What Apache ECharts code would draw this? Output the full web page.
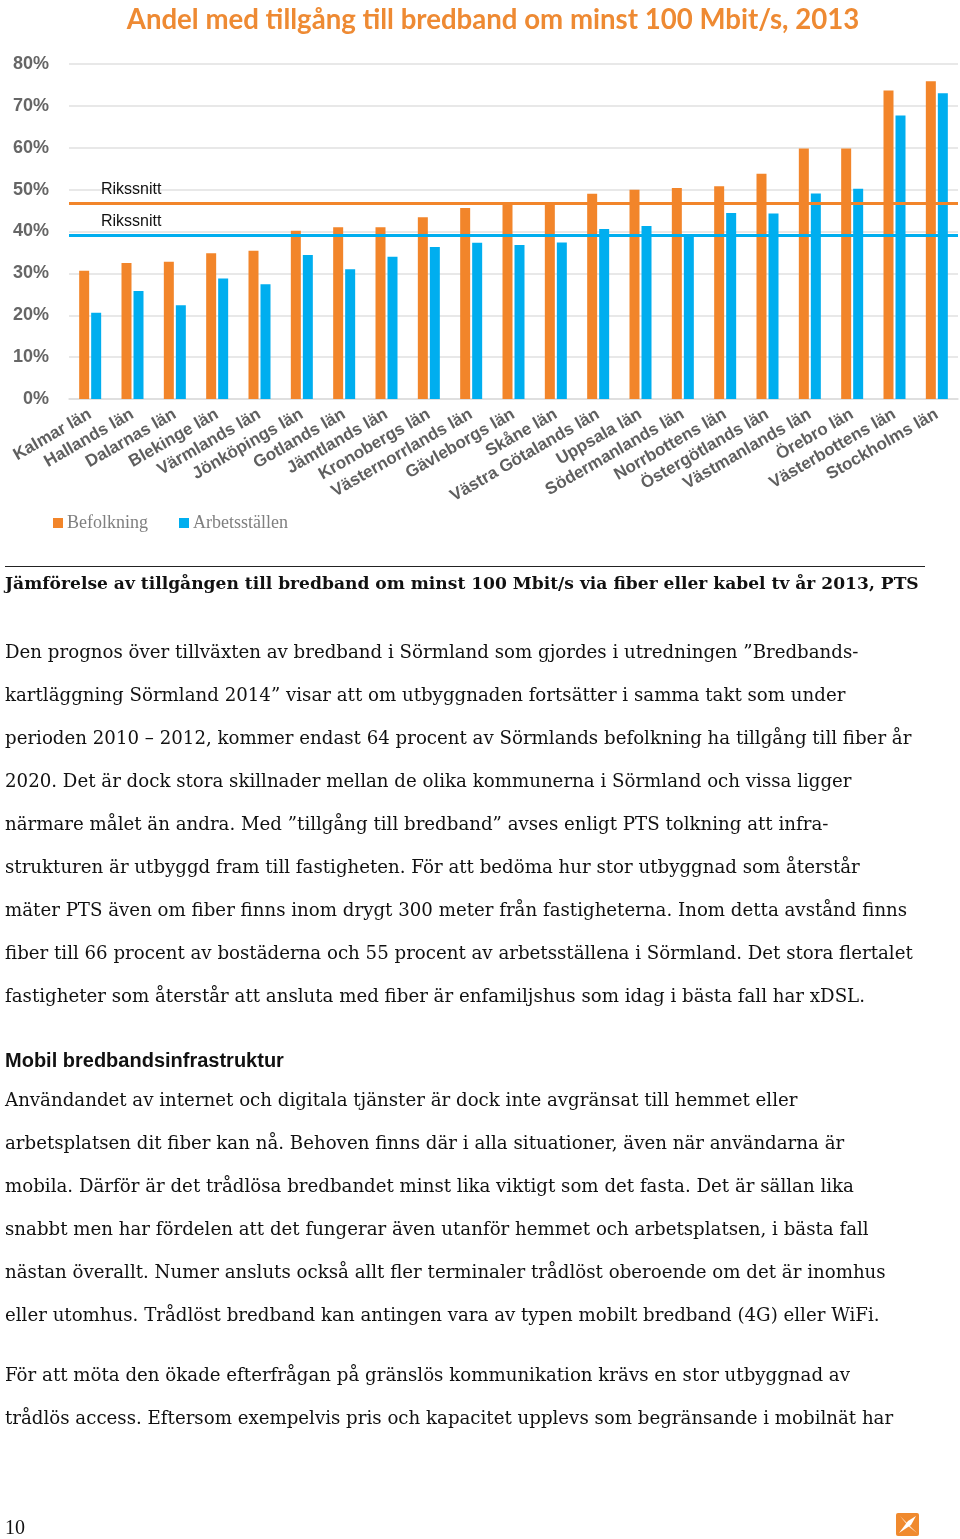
<!DOCTYPE html>
<html>
<head>
<meta charset="utf-8">
<script src="https://cdn.jsdelivr.net/npm/echarts@6/dist/echarts.min.js"></script>
<style>
html,body{margin:0;padding:0;background:#fff;}
#c{width:960px;height:1539px;}
</style>
</head>
<body>
<div id="c"></div>
<script>
// ---- data ----
const categories = ['Kalmar län','Hallands län','Dalarnas län','Blekinge län','Värmlands län','Jönköpings län','Gotlands län','Jämtlands län','Kronobergs län','Västernorrlands län','Gävleborgs län','Skåne län','Västra Götalands län','Uppsala län','Södermanlands län','Norrbottens län','Östergötlands län','Västmanlands län','Örebro län','Västerbottens län','Stockholms län'];
const befolkning = [30.6,32.5,32.8,34.8,35.4,40.2,41.0,41.0,43.4,45.6,46.4,46.9,49.0,50.0,50.4,50.8,53.8,59.8,59.8,73.7,75.9];
const arbetsstallen = [20.6,25.8,22.4,28.8,27.4,34.4,31.0,34.0,36.3,37.3,36.8,37.4,40.6,41.3,39.2,44.4,44.3,49.1,50.2,67.7,73.0];
const rikssnittBefolkning = 46.8;
const rikssnittArbetsstallen = 39.2;
const yTicks = [0,10,20,30,40,50,60,70,80];
const seriesNames = ['Befolkning','Arbetsställen'];
const chartTitle = 'Andel med tillgång till bredband om minst 100 Mbit/s, 2013';
const refLabel = 'Rikssnitt';

const caption = 'Jämförelse av tillgången till bredband om minst 100 Mbit/s via fiber eller kabel tv år 2013, PTS';
const para1 = [
 'Den prognos över tillväxten av bredband i Sörmland som gjordes i utredningen ”Bredbands-',
 'kartläggning Sörmland 2014” visar att om utbyggnaden fortsätter i samma takt som under',
 'perioden 2010 – 2012, kommer endast 64 procent av Sörmlands befolkning ha tillgång till fiber år',
 '2020. Det är dock stora skillnader mellan de olika kommunerna i Sörmland och vissa ligger',
 'närmare målet än andra. Med ”tillgång till bredband” avses enligt PTS tolkning att infra-',
 'strukturen är utbyggd fram till fastigheten. För att bedöma hur stor utbyggnad som återstår',
 'mäter PTS även om fiber finns inom drygt 300 meter från fastigheterna. Inom detta avstånd finns',
 'fiber till 66 procent av bostäderna och 55 procent av arbetsställena i Sörmland. Det stora flertalet',
 'fastigheter som återstår att ansluta med fiber är enfamiljshus som idag i bästa fall har xDSL.'
];
const heading2 = 'Mobil bredbandsinfrastruktur';
const para2 = [
 'Användandet av internet och digitala tjänster är dock inte avgränsat till hemmet eller',
 'arbetsplatsen dit fiber kan nå. Behoven finns där i alla situationer, även när användarna är',
 'mobila. Därför är det trådlösa bredbandet minst lika viktigt som det fasta. Det är sällan lika',
 'snabbt men har fördelen att det fungerar även utanför hemmet och arbetsplatsen, i bästa fall',
 'nästan överallt. Numer ansluts också allt fler terminaler trådlöst oberoende om det är inomhus',
 'eller utomhus. Trådlöst bredband kan antingen vara av typen mobilt bredband (4G) eller WiFi.'
];
const para3 = [
 'För att möta den ökade efterfrågan på gränslös kommunikation krävs en stor utbyggnad av',
 'trådlös access. Eftersom exempelvis pris och kapacitet upplevs som begränsande i mobilnät har'
];
const pageNumber = '10';

// ---- styles ----
const ORANGE = '#F2852A';
const BLUE = '#00AEEF';
const SERIF = '"DejaVu Serif", "Liberation Serif", serif';
const LSERIF = '"Liberation Serif", serif';
const SANS = '"Liberation Sans", Arial, sans-serif';
const BODY_SIZE = 18.2;
const LINE_H = 43;

const graphics = [];
graphics.push({type:'text', style:{x:493, y:20, text:chartTitle, align:'center', verticalAlign:'middle', font:'bold 27.6px Lato, "Open Sans", sans-serif', fill:'#EE8A33'}});
graphics.push({type:'line', shape:{x1:5, y1:566.5, x2:925, y2:566.5}, style:{stroke:'#222', lineWidth:1}});
graphics.push({type:'text', style:{x:5, y:585, text:caption, verticalAlign:'middle', font:'bold 17.1px ' + SERIF, fill:'#111'}});
function addLines(lines, y0){
  lines.forEach((t,i)=>{
    graphics.push({type:'text', style:{x:5, y:y0 + i*LINE_H, text:t, verticalAlign:'middle', font: BODY_SIZE + 'px ' + SERIF, fill:'#111'}});
  });
}
addLines(para1, 653);
graphics.push({type:'text', style:{x:5, y:1061, text:heading2, verticalAlign:'middle', font:'bold 20px ' + SANS, fill:'#111'}});
addLines(para2, 1101);
addLines(para3, 1376);
graphics.push({type:'text', style:{x:5, y:1529, text:pageNumber, verticalAlign:'middle', font:'20px ' + LSERIF, fill:'#111'}});
// logo
graphics.push({type:'rect', shape:{x:896, y:1513, width:23, height:23, r:2}, style:{fill:'#F08A2E'}});
graphics.push({type:'polygon', shape:{points:[[899,1533],[908,1521],[916,1516],[911,1525]]}, style:{fill:'#fff'}});
graphics.push({type:'polygon', shape:{points:[[900,1516],[908,1524],[917,1533],[908,1526]]}, style:{fill:'#fff', opacity:0.8}});

const chart = echarts.init(document.getElementById('c'), null, {renderer:'canvas'});
chart.setOption({
  animation:false,
  backgroundColor:'#fff',
  grid:{left:69, right:2, top:64, height:335, containLabel:false},
  legend:{
    data:seriesNames, left:48, top:509, itemWidth:10, itemHeight:10, itemGap:31, icon:'rect',
    textStyle:{fontFamily:LSERIF, fontSize:18, color:'#7f7f7f', padding:[0,0,0,-1]}
  },
  xAxis:{
    type:'category', data:categories,
    axisTick:{show:false},
    axisLine:{show:true, lineStyle:{color:'#dcdcdc', width:1.5}},
    axisLabel:{interval:0, rotate:30, margin:14, fontFamily:SANS, fontWeight:'bold', fontSize:17, color:'#5f5f5f'}
  },
  yAxis:{
    type:'value', min:0, max:80, interval:10,
    axisLine:{show:false}, axisTick:{show:false},
    splitLine:{lineStyle:{color:'#e0e0e0', width:1.5}},
    axisLabel:{formatter:'{value}%', margin:20, fontFamily:SANS, fontWeight:'bold', fontSize:18, color:'#666'}
  },
  series:[
    {name:seriesNames[0], type:'bar', data:befolkning, barWidth:10, barGap:'20%', itemStyle:{color:ORANGE},
     markLine:{silent:true, symbol:'none', data:[{yAxis:rikssnittBefolkning}],
       lineStyle:{color:ORANGE, width:3, type:'solid'},
       label:{formatter:refLabel, position:'insideStartTop', distance:[32,5], color:'#111', fontFamily:SANS, fontSize:16}}},
    {name:seriesNames[1], type:'bar', data:arbetsstallen, barWidth:10, barGap:'20%', itemStyle:{color:BLUE},
     markLine:{silent:true, symbol:'none', data:[{yAxis:rikssnittArbetsstallen}],
       lineStyle:{color:BLUE, width:3, type:'solid'},
       label:{formatter:refLabel, position:'insideStartTop', distance:[32,5], color:'#111', fontFamily:SANS, fontSize:16}}}
  ],
  graphic:graphics
});
</script>
</body>
</html>
